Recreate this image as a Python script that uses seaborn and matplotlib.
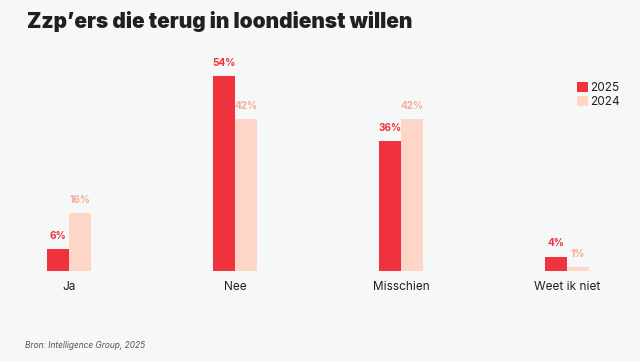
import matplotlib
matplotlib.use("Agg")
import matplotlib.pyplot as plt
from matplotlib.patches import Patch
import pandas as pd
import seaborn as sns

categories = ["Ja", "Nee", "Misschien", "Weet ik niet"]
years = ["2025", "2024"]
values_2025 = [6, 54, 36, 4]
values_2024 = [16, 42, 42, 1]

BG = "#f6f7f7"
RED = "#ef323d"
PINK = "#fdd6c8"
PINK_TEXT = "#f8ab98"
DARK = "#231f20"

df = pd.DataFrame({
    "Antwoord": categories * 2,
    "Jaar": [years[0]] * len(categories) + [years[1]] * len(categories),
    "Percentage": values_2025 + values_2024,
})

sns.set_theme(style="white")
plt.rcParams["font.family"] = ["Inter", "DejaVu Sans"]

fig = plt.figure(figsize=(6.4, 3.61), dpi=100, facecolor=BG)
# axes: baseline at 271px from top, 3.61 px per percent
ax = fig.add_axes([0, 90 / 361, 1, 221 / 361], facecolor=BG)

sns.barplot(data=df, x="Antwoord", y="Percentage", hue="Jaar", hue_order=years,
            order=categories, palette=[RED, PINK], width=0.265, gap=0,
            saturation=1, legend=False, ax=ax, linewidth=0)

for container, color in zip(ax.containers, [RED, PINK_TEXT]):
    ax.bar_label(container, labels=[f"{int(v)}%" for v in container.datavalues],
                 padding=6, color=color, fontsize=7.2, fontweight="bold")

ax.set_xlim(-69 / 166, 571 / 166)
ax.set_ylim(0, 221 / 3.61)
ax.set_xlabel("")
ax.set_ylabel("")
ax.set_yticks([])
ax.tick_params(axis="x", length=0, pad=7, labelsize=8.5, labelcolor=DARK)
for spine in ax.spines.values():
    spine.set_visible(False)

handles = [Patch(facecolor=RED, edgecolor="none"), Patch(facecolor=PINK, edgecolor="none")]
fig.legend(handles, years, loc="upper left", bbox_to_anchor=(577 / 640, 1 - 82 / 361),
           frameon=False, fontsize=8.5, handlelength=0.9, handleheight=0.9,
           handletextpad=0.25, labelspacing=0.2, borderpad=0, borderaxespad=0,
           labelcolor=DARK)

fig.text(27 / 640, 1 - 22 / 361, "Zzp\u2019ers die terug in loondienst willen",
         fontsize=15, fontweight="black", color=DARK, va="center", ha="left")
fig.text(25 / 640, 1 - 346 / 361, "Bron: Intelligence Group, 2025",
         fontsize=6, fontstyle="italic", color="#555555", va="center", ha="left")

fig.savefig("out.png", dpi=100, facecolor=BG)
